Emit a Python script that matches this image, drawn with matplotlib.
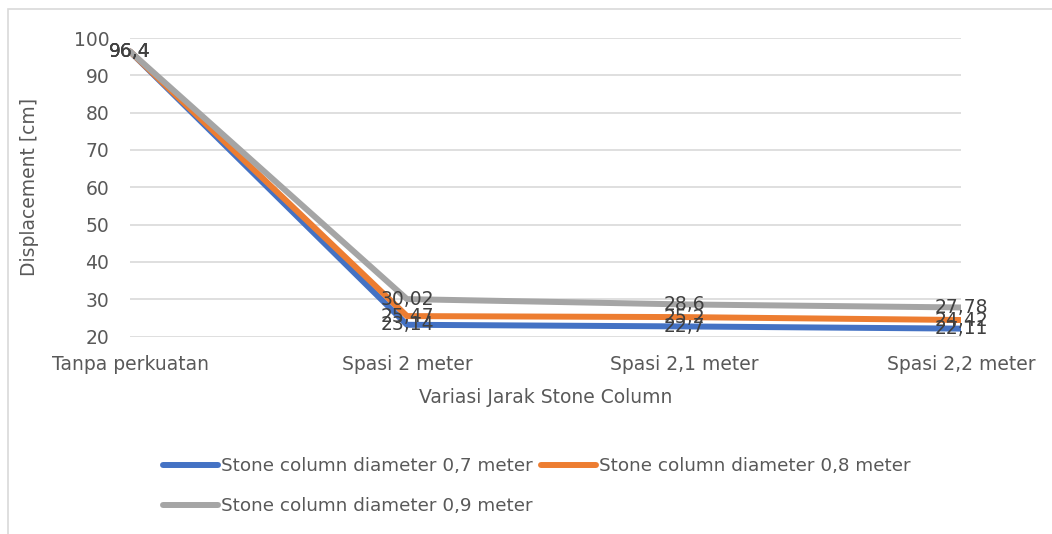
import matplotlib
matplotlib.use("Agg")
import matplotlib.pyplot as plt
from matplotlib.lines import Line2D
from matplotlib.patches import Rectangle

categories = ["Tanpa perkuatan", "Spasi 2 meter", "Spasi 2,1 meter", "Spasi 2,2 meter"]
d07 = [96.4, 23.14, 22.7, 22.11]
d08 = [96.4, 25.47, 25.2, 24.42]
d09 = [96.4, 30.02, 28.6, 27.78]
series_names = ["Stone column diameter 0,7 meter",
                "Stone column diameter 0,8 meter",
                "Stone column diameter 0,9 meter"]
colors = ["#4472C4", "#ED7D31", "#A5A5A5"]
yticks = [20, 30, 40, 50, 60, 70, 80, 90, 100]

plt.rcParams["font.family"] = ["DejaVu Sans"]

W, H = 1052, 534
fig = plt.figure(figsize=(W / 100, H / 100), dpi=100)
ax = fig.add_axes([130 / W, 1 - 336.5 / H, (961 - 130) / W, (336.5 - 38) / H])

x = list(range(len(categories)))
for vals, c in zip([d07, d08, d09], colors):
    ax.plot(x, vals, color=c, lw=4.3, solid_capstyle="round", solid_joinstyle="round", zorder=3)

for vals in [d07, d08, d09]:
    for xi, v in zip(x, vals):
        ax.text(xi, v, f"{v:g}".replace(".", ","), ha="center", va="center",
                fontsize=13.5, color="#404040", zorder=5)

ax.set_xlim(0, len(categories) - 1)
ax.set_ylim(20, 100)
ax.set_yticks(yticks)
ax.set_xticks(x)
ax.set_xticklabels(categories)
ax.yaxis.grid(True, color="#D9D9D9", lw=1.2)
ax.set_axisbelow(True)
for s in ax.spines.values():
    s.set_visible(False)
ax.tick_params(length=0, labelsize=13.5, colors="#595959")
ax.tick_params(axis="y", pad=15)
ax.tick_params(axis="x", pad=13.5)
ax.set_xlabel("Variasi Jarak Stone Column", fontsize=13.5, color="#595959", labelpad=10)
fig.text(30 / W, 1 - 187 / H, "Displacement [cm]", rotation=90, ha="center", va="center",
         fontsize=13.5, color="#595959")

# chart area border
fig.add_artist(Rectangle((8 / W, -0.1), 1.2, 1.1 - 9 / H, transform=fig.transFigure,
                         fill=False, edgecolor="#D9D9D9", lw=1.2))

handles = [Line2D([], [], color=c, lw=4.3, solid_capstyle="round") for c in colors]
order = [0, 2, 1]
fig.legend([handles[i] for i in order], [series_names[i] for i in order],
           ncol=2, loc="upper left", bbox_to_anchor=(154 / W, 1 - 448 / H),
           frameon=False, fontsize=13.2, labelcolor="#595959",
           handlelength=3.0, handletextpad=0.16, columnspacing=0.44, labelspacing=1.2,
           borderpad=0)

fig.savefig("out.png", dpi=100)
